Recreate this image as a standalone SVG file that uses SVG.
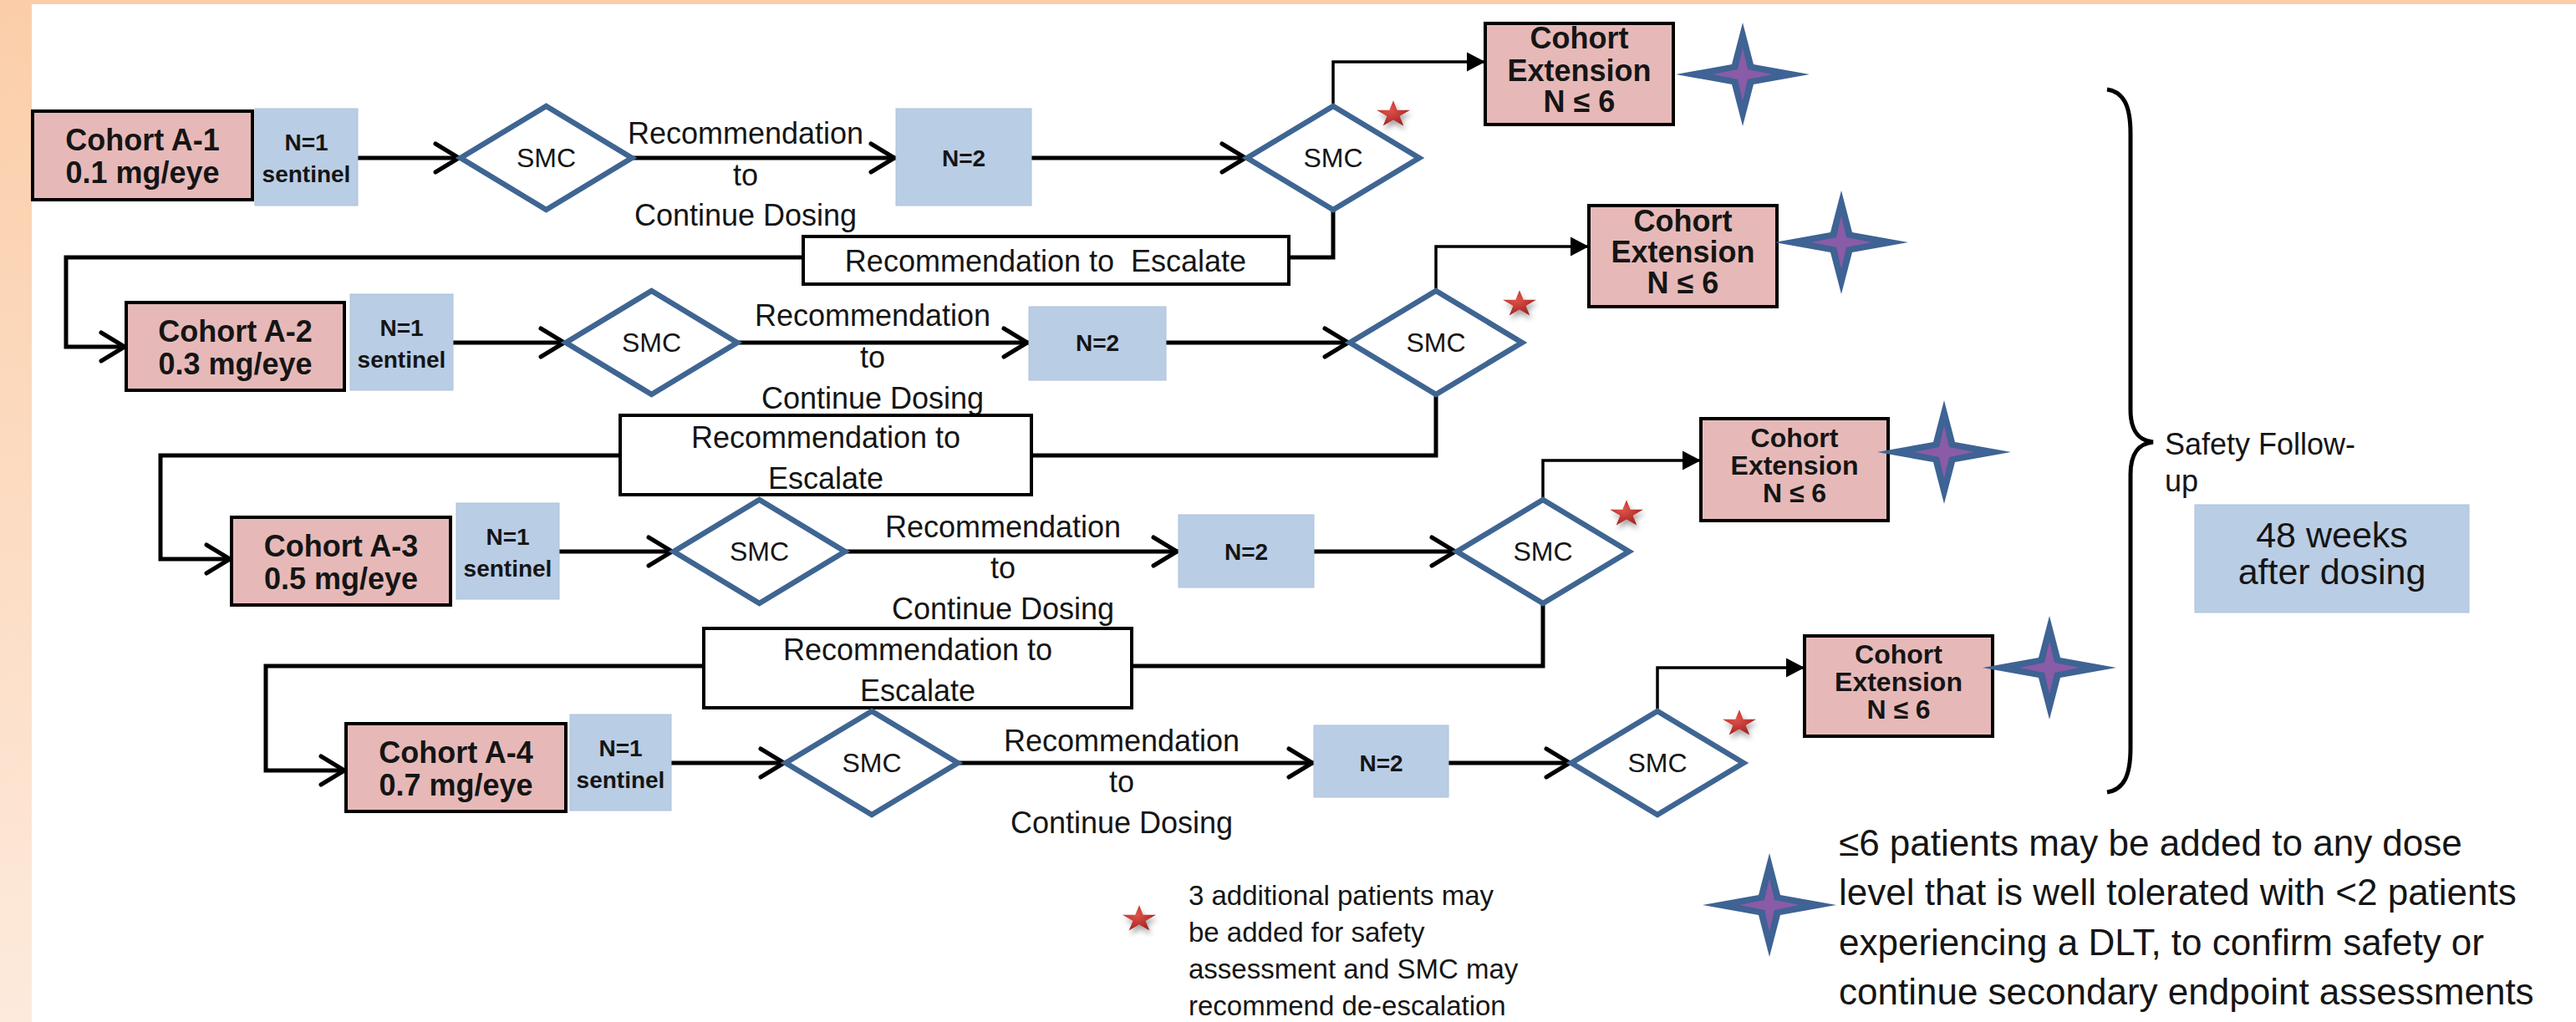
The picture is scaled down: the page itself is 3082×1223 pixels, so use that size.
<svg xmlns="http://www.w3.org/2000/svg" width="3082" height="1223" viewBox="0 0 3082 1223">
<defs>
<linearGradient id="lb" x1="0" y1="0" x2="0" y2="1"><stop offset="0" stop-color="#FBCEA9"/><stop offset="1" stop-color="#FDEADC"/></linearGradient>
<radialGradient id="rs" cx="0.4" cy="0.35" r="0.75"><stop offset="0" stop-color="#E2554C"/><stop offset="1" stop-color="#9C1B1B"/></radialGradient>
<filter id="sh" x="-60%" y="-60%" width="220%" height="220%"><feDropShadow dx="2" dy="5" stdDeviation="3" flood-color="#000" flood-opacity="0.35"/></filter>
<path id="rstar" d="M0,-16.8 L4.7,-5.2 L20,-5.2 L7.6,2 L12.3,13.6 L0,6.4 L-12.3,13.6 L-7.6,2 L-20,-5.2 L-4.7,-5.2 Z" fill="url(#rs)" filter="url(#sh)"/>
<g id="star4"><path d="M0,-62 L13,-12 L80,0 L13,12 L0,62 L-13,12 L-80,0 L-13,-12 Z" fill="#3E6394"/><path d="M0,-32 L6,-6 L36,0 L6,6 L0,32 L-6,6 L-36,0 L-6,-6 Z" fill="#8A5BA6"/></g>
<marker id="chev" markerUnits="userSpaceOnUse" viewBox="-36 -22 40 44" refX="0" refY="0" markerWidth="40" markerHeight="44" orient="auto" overflow="visible"><path d="M-30,-17 L-2,0 L-30,17" fill="none" stroke="#000" stroke-width="5" stroke-linecap="round" stroke-linejoin="round"/></marker>
<marker id="tri" markerUnits="userSpaceOnUse" viewBox="-24 -13 26 26" refX="0" refY="0" markerWidth="26" markerHeight="26" orient="auto" overflow="visible"><path d="M-22,-11.5 L0,0 L-22,11.5 Z" fill="#000"/></marker>
</defs>
<style>
.t{font-family:"Liberation Sans",Arial,sans-serif;fill:#151515;}
.b{font-weight:bold;}
.c{text-anchor:middle;}
.coh{fill:#E6B9B8;stroke:#000;stroke-width:4;}
.blu{fill:#B9CDE5;stroke:#AEC2DB;stroke-width:1;}
.dia{fill:#fff;stroke:#3F6592;stroke-width:6.5;stroke-linejoin:miter;}
.esc{fill:#fff;stroke:#000;stroke-width:4;}
.ln{fill:none;stroke:#000;stroke-width:5;marker-end:url(#chev);}
.lp{fill:none;stroke:#000;stroke-width:5;}
.ln2{fill:none;stroke:#000;stroke-width:3.5;marker-end:url(#tri);}
.f36{font-size:36px;}
.f28{font-size:28px;}
.f32{font-size:32px;}
</style>

<!-- background -->
<rect x="0" y="0" width="3082" height="1223" fill="#fff"/>
<rect x="0" y="0" width="38" height="1223" fill="url(#lb)"/>
<rect x="0" y="0" width="3082" height="5" fill="#FBCEA9"/>

<!-- connectors -->
<g id="connectors">
  <path class="ln" d="M428,189 H551"/>
  <path class="ln" d="M756,189 H1072"/>
  <path class="ln" d="M1234,189 H1492"/>
  <path class="ln2" d="M1595,127 V74 H1777"/>
  <path class="ln" d="M1595,251 V308 H79 V415 H151"/>

  <path class="ln" d="M542,410 H677"/>
  <path class="ln" d="M882,410 H1231"/>
  <path class="ln" d="M1395,410 H1615"/>
  <path class="ln2" d="M1718,348 V295 H1901"/>
  <path class="ln" d="M1718,472 V545 H192 V669 H277"/>

  <path class="ln" d="M669,660 H806"/>
  <path class="ln" d="M1011,660 H1410"/>
  <path class="ln" d="M1572,660 H1743"/>
  <path class="ln2" d="M1846,598 V551 H2035"/>
  <path class="ln" d="M1846,722 V797 H318 V922 H414"/>

  <path class="ln" d="M803,913 H940"/>
  <path class="ln" d="M1146,913 H1572"/>
  <path class="ln" d="M1733,913 H1880"/>
  <path class="ln2" d="M1983,851 V799 H2159"/>

  <g class="t f36 c">
    <text x="892" y="172">Recommendation</text><text x="892" y="222">to</text><text x="892" y="270">Continue Dosing</text>
    <text x="1044" y="390">Recommendation</text><text x="1044" y="440">to</text><text x="1044" y="489">Continue Dosing</text>
    <text x="1200" y="643">Recommendation</text><text x="1200" y="692">to</text><text x="1200" y="741">Continue Dosing</text>
    <text x="1342" y="899">Recommendation</text><text x="1342" y="948">to</text><text x="1342" y="997">Continue Dosing</text>
  </g>
</g>

<!-- Row 1 -->
<g id="cohort-a1"><rect class="coh" x="39" y="133" width="263" height="106"/><text class="t b c f36" x="170.5" y="180">Cohort A-1</text><text class="t b c f36" x="170.5" y="219">0.1 mg/eye</text></g>
<g id="sentinel-1"><rect class="blu" x="305" y="130" width="123" height="116"/><text class="t b c f28" x="366.5" y="180">N=1</text><text class="t b c f28" x="366.5" y="218">sentinel</text></g>
<g id="smc-1a"><polygon class="dia" points="653.5,127 756,189 653.5,251 551,189"/><text class="t c f32" x="653.5" y="200">SMC</text></g>
<g id="n2-1"><rect class="blu" x="1072" y="130" width="162" height="116"/><text class="t b c f28" x="1153" y="199">N=2</text></g>
<g id="smc-1b"><polygon class="dia" points="1595,127 1698,189 1595,251 1492,189"/><text class="t c f32" x="1595" y="200">SMC</text></g>
<g id="ext-1"><rect class="coh" x="1777" y="28" width="225" height="121"/><text class="t b c f36" x="1889.5" y="58">Cohort</text><text class="t b c f36" x="1889.5" y="97">Extension</text><text class="t b c f36" x="1889.5" y="134">N ≤ 6</text></g>
<g id="esc-1"><rect class="esc" x="961" y="283" width="581" height="57"/><text class="t c f36" x="1251" y="325" xml:space="preserve">Recommendation to  Escalate</text></g>

<!-- Row 2 -->
<g id="cohort-a2"><rect class="coh" x="151" y="362" width="261" height="105"/><text class="t b c f36" x="281.5" y="409">Cohort A-2</text><text class="t b c f36" x="281.5" y="448">0.3 mg/eye</text></g>
<g id="sentinel-2"><rect class="blu" x="419" y="352" width="123" height="115"/><text class="t b c f28" x="480.5" y="402">N=1</text><text class="t b c f28" x="480.5" y="440">sentinel</text></g>
<g id="smc-2a"><polygon class="dia" points="779.5,348 882,410 779.5,472 677,410"/><text class="t c f32" x="779.5" y="421">SMC</text></g>
<g id="n2-2"><rect class="blu" x="1231" y="367" width="164" height="88"/><text class="t b c f28" x="1313" y="420">N=2</text></g>
<g id="smc-2b"><polygon class="dia" points="1718,348 1821,410 1718,472 1615,410"/><text class="t c f32" x="1718" y="421">SMC</text></g>
<g id="ext-2"><rect class="coh" x="1901" y="246" width="225" height="121"/><text class="t b c f36" x="2013.5" y="277">Cohort</text><text class="t b c f36" x="2013.5" y="314">Extension</text><text class="t b c f36" x="2013.5" y="351">N ≤ 6</text></g>
<g id="esc-2"><rect class="esc" x="742" y="497" width="492" height="95"/><text class="t c f36" x="988" y="536">Recommendation to</text><text class="t c f36" x="988" y="585">Escalate</text></g>

<!-- Row 3 -->
<g id="cohort-a3"><rect class="coh" x="277" y="619" width="262" height="105"/><text class="t b c f36" x="408" y="666">Cohort A-3</text><text class="t b c f36" x="408" y="705">0.5 mg/eye</text></g>
<g id="sentinel-3"><rect class="blu" x="546" y="602" width="123" height="115"/><text class="t b c f28" x="607.5" y="652">N=1</text><text class="t b c f28" x="607.5" y="690">sentinel</text></g>
<g id="smc-3a"><polygon class="dia" points="908.5,598 1011,660 908.5,722 806,660"/><text class="t c f32" x="908.5" y="671">SMC</text></g>
<g id="n2-3"><rect class="blu" x="1410" y="616" width="162" height="87"/><text class="t b c f28" x="1491" y="670">N=2</text></g>
<g id="smc-3b"><polygon class="dia" points="1846,598 1949,660 1846,722 1743,660"/><text class="t c f32" x="1846" y="671">SMC</text></g>
<g id="ext-3"><rect class="coh" x="2035" y="501" width="224" height="122"/><text class="t b c f32" x="2147" y="535">Cohort</text><text class="t b c f32" x="2147" y="568">Extension</text><text class="t b c f32" x="2147" y="601">N ≤ 6</text></g>
<g id="esc-3"><rect class="esc" x="842" y="752" width="512" height="95"/><text class="t c f36" x="1098" y="790">Recommendation to</text><text class="t c f36" x="1098" y="839">Escalate</text></g>

<!-- Row 4 -->
<g id="cohort-a4"><rect class="coh" x="414" y="866" width="263" height="105"/><text class="t b c f36" x="545.5" y="913">Cohort A-4</text><text class="t b c f36" x="545.5" y="952">0.7 mg/eye</text></g>
<g id="sentinel-4"><rect class="blu" x="682" y="855" width="121" height="115"/><text class="t b c f28" x="742.5" y="905">N=1</text><text class="t b c f28" x="742.5" y="943">sentinel</text></g>
<g id="smc-4a"><polygon class="dia" points="1043,851 1146,913 1043,975 940,913"/><text class="t c f32" x="1043" y="924">SMC</text></g>
<g id="n2-4"><rect class="blu" x="1572" y="868" width="161" height="86"/><text class="t b c f28" x="1652.5" y="923">N=2</text></g>
<g id="smc-4b"><polygon class="dia" points="1983,851 2086,913 1983,975 1880,913"/><text class="t c f32" x="1983" y="924">SMC</text></g>
<g id="ext-4"><rect class="coh" x="2159" y="761" width="225" height="120"/><text class="t b c f32" x="2271.5" y="794">Cohort</text><text class="t b c f32" x="2271.5" y="827">Extension</text><text class="t b c f32" x="2271.5" y="860">N ≤ 6</text></g>

<!-- stars -->
<g id="stars">
  <use href="#star4" x="2085" y="89"/>
  <use href="#star4" x="2203" y="290"/>
  <use href="#star4" x="2326" y="541"/>
  <use href="#star4" x="2452" y="799"/>
  <use href="#rstar" x="1667" y="137"/>
  <use href="#rstar" x="1818" y="364"/>
  <use href="#rstar" x="1946" y="615"/>
  <use href="#rstar" x="2081" y="866"/>
</g>

<!-- safety follow-up -->
<g id="brace"><path class="lp" d="M2521,107 C2540,110 2549,125 2549,160 L2549,490 C2549,515 2558,527 2576,529 C2558,531 2549,543 2549,568 L2549,895 C2549,930 2540,945 2521,948"/></g>
<g id="safety-label"><text class="t f36" x="2590" y="544">Safety Follow-</text><text class="t f36" x="2590" y="588">up</text></g>
<g id="weeks"><rect class="blu" x="2626" y="604" width="328" height="129"/><text class="t c" font-size="43" x="2790" y="655">48 weeks</text><text class="t c" font-size="43" x="2790" y="699">after dosing</text></g>

<!-- legends -->
<g id="legend-star">
  <use href="#star4" x="2117" y="1083"/>
  <g class="t" font-size="44">
    <text x="2200" y="1024">≤6 patients may be added to any dose</text>
    <text x="2200" y="1083">level that is well tolerated with &lt;2 patients</text>
    <text x="2200" y="1143">experiencing a DLT, to confirm safety or</text>
    <text x="2200" y="1202">continue secondary endpoint assessments</text>
  </g>
</g>
<g id="legend-red">
  <use href="#rstar" x="1363" y="1100"/>
  <g class="t" font-size="33">
    <text x="1422" y="1083">3 additional patients may</text>
    <text x="1422" y="1127">be added for safety</text>
    <text x="1422" y="1171">assessment and SMC may</text>
    <text x="1422" y="1215">recommend de-escalation</text>
  </g>
</g>
</svg>
